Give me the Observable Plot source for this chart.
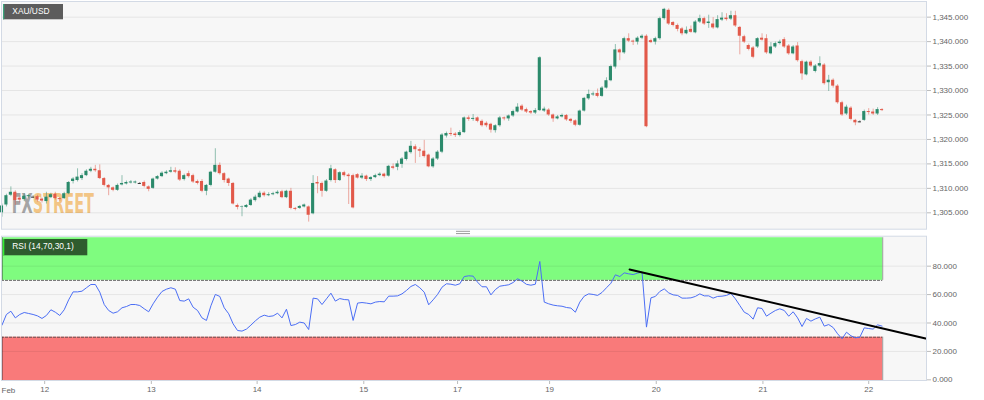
<!DOCTYPE html>
<html><head><meta charset="utf-8">
<script src="https://cdn.jsdelivr.net/npm/d3@7"></script>
<script src="https://cdn.jsdelivr.net/npm/@observablehq/plot@0.6"></script>
<style>
html,body{margin:0;padding:0;background:#fff;}
#chart{position:relative;width:984px;height:400px;overflow:hidden;font-family:"Liberation Sans",Arial,sans-serif;}
#topPanel,#bottomPanel{position:absolute;left:0;}
#topPanel{top:0}
#bottomPanel{top:230px}
svg{display:block}
</style></head><body>
<div id="chart"><div id="topPanel"></div><div id="bottomPanel"></div></div>
<script>
// ---- data (hourly XAU/USD candles) ----
const opens = [1305.0,1306.6,1308.6,1309.2,1308.0,1307.7,1308.3,1308.2,1308.3,1307.8,
1307.3,1308.1,1308.8,1307.9,1307.9,1308.9,1311.4,1311.6,1312.0,1312.6,
1313.5,1313.9,1313.6,1312.0,1310.6,1310.1,1309.6,1310.7,1310.9,1311.1,
1311.1,1311.0,1311.2,1310.3,1310.0,1311.9,1312.4,1313.0,1313.3,1313.6,
1313.5,1311.8,1313.0,1312.6,1311.4,1311.4,1309.4,1310.6,1313.3,1314.7,
1313.0,1311.9,1311.0,1306.5,1306.1,1306.1,1306.5,1307.5,1308.1,1309.0,
1308.5,1308.7,1308.9,1309.3,1308.1,1309.4,1305.9,1305.9,1306.2,1306.2,
1304.8,1311.2,1311.0,1309.4,1311.6,1313.8,1311.6,1313.2,1312.7,1312.6,
1312.8,1312.1,1312.5,1311.8,1312.2,1312.6,1312.9,1312.5,1314.4,1314.3,
1314.9,1315.9,1317.3,1318.5,1317.9,1317.6,1316.8,1314.4,1316.0,1317.4,
1320.7,1321.2,1321.1,1320.8,1321.4,1324.4,1324.1,1324.4,1323.7,1323.3,
1323.1,1321.8,1322.8,1324.4,1324.2,1324.8,1325.6,1326.8,1326.1,1325.7,
1325.4,1325.9,1325.8,1326.0,1325.0,1324.2,1324.6,1324.9,1324.1,1323.8,
1322.9,1325.8,1328.3,1329.1,1329.4,1328.8,1330.5,1332.0,1334.8,1338.3,
1337.7,1340.6,1340.1,1339.9,1340.7,1341.1,1340.2,1339.9,1340.6,1344.7,
1346.4,1343.9,1343.3,1342.6,1341.6,1342.5,1341.8,1344.0,1344.7,1343.7,
1343.6,1342.8,1344.4,1344.8,1344.6,1345.3,1342.9,1341.0,1339.2,1338.7,
1338.9,1340.7,1340.6,1337.5,1338.9,1339.6,1340.4,1339.1,1337.5,1339.1,
1335.9,1333.2,1335.8,1333.9,1335.0,1335.2,1331.6,1332.1,1330.9,1327.5,
1325.2,1326.4,1323.9,1323.6,1323.9,1325.7,1325.6,1325.2,1326.1];
const highs = [1306.8,1308.8,1310.3,1309.5,1308.4,1308.9,1308.8,1308.5,1308.6,1308.0,
1309.2,1309.0,1309.2,1308.1,1309.2,1311.4,1312.2,1314.0,1313.0,1313.8,
1314.3,1314.7,1314.8,1312.2,1310.8,1310.3,1310.9,1312.6,1311.5,1311.6,
1311.5,1311.2,1311.5,1310.5,1312.1,1312.6,1313.4,1313.6,1314.3,1314.2,
1313.8,1312.9,1313.5,1312.9,1311.7,1311.8,1310.8,1313.5,1318.1,1315.2,
1313.2,1312.1,1311.2,1306.8,1306.4,1306.7,1307.9,1308.6,1309.4,1309.3,
1309.1,1309.2,1309.5,1309.6,1309.6,1310.0,1306.1,1306.5,1306.8,1306.4,
1312.6,1312.4,1311.3,1311.8,1314.7,1314.0,1313.4,1313.5,1313.0,1312.9,
1313.0,1313.0,1312.7,1312.4,1312.9,1313.2,1313.1,1314.7,1315.0,1315.6,
1316.3,1317.6,1319.6,1318.9,1318.3,1319.8,1317.0,1316.3,1317.7,1321.2,
1321.5,1322.3,1321.4,1321.8,1324.6,1324.8,1325.1,1324.6,1324.0,1323.6,
1323.3,1323.0,1324.7,1324.6,1325.0,1326.0,1327.3,1327.1,1326.4,1325.9,
1326.3,1336.9,1326.6,1326.3,1325.2,1324.9,1325.2,1325.1,1324.3,1324.0,
1326.0,1328.6,1330.1,1329.7,1330.3,1330.8,1332.6,1335.2,1339.4,1338.5,
1340.9,1341.6,1340.3,1341.0,1341.4,1341.4,1340.5,1340.9,1345.0,1346.8,
1346.7,1344.1,1343.6,1342.9,1343.0,1343.2,1344.3,1345.4,1345.0,1345.4,
1344.9,1345.3,1345.9,1345.7,1346.2,1346.2,1343.1,1341.3,1339.5,1339.0,
1340.8,1341.6,1341.4,1339.8,1339.9,1340.3,1340.8,1339.4,1339.2,1339.8,
1336.2,1336.0,1336.1,1335.3,1336.9,1335.5,1333.1,1332.4,1331.2,1327.8,
1327.0,1326.7,1324.1,1323.8,1326.0,1326.3,1326.2,1326.5,1326.3];
const lows = [1304.1,1306.2,1308.3,1306.5,1307.0,1307.3,1308.0,1308.0,1307.2,1307.0,
1306.8,1307.9,1307.6,1307.3,1307.7,1308.7,1310.9,1311.3,1311.6,1312.4,
1313.2,1313.3,1311.8,1310.3,1308.5,1309.3,1309.4,1310.5,1310.7,1310.9,
1310.9,1310.8,1310.1,1309.3,1309.8,1311.7,1312.2,1312.8,1313.1,1313.0,
1311.4,1311.5,1312.1,1311.0,1310.7,1309.1,1308.5,1310.3,1313.1,1312.7,
1311.1,1310.4,1306.6,1305.6,1304.2,1305.9,1306.3,1307.2,1307.9,1308.2,
1308.3,1308.5,1308.7,1307.9,1307.9,1305.6,1305.4,1305.7,1306.0,1303.1,
1304.6,1308.9,1308.2,1309.2,1311.3,1311.0,1311.4,1312.3,1306.7,1305.8,
1311.9,1311.8,1311.4,1311.4,1312.0,1312.4,1312.1,1312.3,1313.8,1313.6,
1314.1,1315.6,1317.0,1315.1,1316.3,1316.2,1314.2,1314.1,1315.7,1317.1,
1320.3,1320.6,1320.4,1320.5,1321.2,1323.7,1323.7,1323.4,1322.5,1322.4,
1321.3,1321.3,1322.5,1323.8,1323.7,1324.5,1325.4,1325.7,1325.3,1325.1,
1325.1,1325.7,1325.5,1324.7,1323.5,1324.0,1324.4,1323.7,1323.3,1322.6,
1322.7,1325.6,1328.0,1328.8,1328.5,1328.6,1330.3,1331.8,1334.4,1336.1,
1337.4,1339.8,1339.2,1339.3,1340.4,1322.4,1339.6,1339.3,1340.3,1344.4,
1343.3,1343.0,1342.0,1341.2,1341.4,1341.7,1341.6,1343.7,1343.3,1342.7,
1342.5,1342.6,1344.1,1344.2,1344.3,1342.9,1337.3,1339.6,1338.1,1336.5,
1338.6,1340.1,1337.4,1337.3,1338.6,1339.3,1338.6,1337.2,1337.3,1335.8,
1332.1,1333.0,1334.7,1333.6,1334.7,1331.1,1329.8,1330.5,1327.2,1324.7,
1324.9,1323.8,1322.8,1323.4,1323.7,1325.0,1324.9,1324.9,1325.7];
const closes = [1306.4,1308.5,1309.2,1307.5,1307.6,1308.4,1308.5,1308.2,1307.6,1307.4,
1308.2,1308.7,1307.9,1307.7,1308.9,1311.2,1311.9,1312.3,1312.6,1313.5,
1313.9,1313.6,1312.0,1310.6,1310.1,1309.6,1310.6,1311.0,1311.2,1311.3,
1311.3,1311.0,1310.4,1309.8,1311.9,1312.4,1313.1,1313.3,1313.6,1313.3,
1311.7,1312.6,1312.4,1311.3,1311.0,1309.4,1310.6,1313.3,1314.7,1313.0,
1311.6,1311.0,1306.8,1306.1,1306.2,1306.5,1307.6,1308.2,1309.0,1308.5,
1308.7,1308.9,1309.2,1308.1,1309.4,1305.9,1305.7,1306.3,1306.6,1304.5,
1311.0,1310.9,1309.4,1311.5,1314.0,1311.6,1313.2,1312.6,1312.4,1306.0,
1312.1,1312.5,1311.8,1312.2,1312.6,1312.9,1312.4,1314.5,1314.1,1315.0,
1316.0,1317.4,1318.6,1317.9,1317.6,1316.5,1314.4,1316.0,1317.4,1320.9,
1321.2,1321.0,1320.8,1321.4,1324.4,1324.1,1324.3,1323.7,1322.8,1322.8,
1321.9,1322.8,1324.4,1324.2,1324.8,1325.7,1326.6,1326.0,1325.6,1325.4,
1325.9,1336.7,1326.2,1325.0,1324.2,1324.6,1324.9,1324.0,1323.7,1322.9,
1325.8,1328.4,1329.2,1329.3,1328.8,1330.5,1332.0,1334.9,1338.3,1337.7,
1340.6,1340.1,1339.9,1340.7,1341.1,1322.6,1339.8,1340.6,1344.7,1346.6,
1343.6,1343.3,1342.5,1341.6,1342.3,1341.9,1344.0,1344.7,1343.6,1344.0,
1342.8,1344.5,1344.8,1344.5,1345.3,1343.2,1341.1,1339.9,1338.4,1336.8,
1340.6,1340.3,1337.7,1338.9,1339.6,1339.9,1338.9,1337.5,1338.9,1336.1,
1333.4,1335.8,1335.0,1335.0,1335.5,1331.4,1332.1,1330.9,1327.5,1325.0,
1326.6,1324.1,1323.4,1323.6,1325.7,1325.5,1325.2,1326.1,1325.9];
const rsi = [38.5,46.0,48.3,43.6,46.0,47.4,46.7,46.0,45.0,43.2,
45.3,49.3,47.6,45.3,49.3,56.3,61.9,61.9,62.4,64.8,
67.1,67.1,61.7,53.0,48.8,46.9,47.9,50.7,51.6,53.0,
53.0,52.3,50.0,47.9,53.5,58.2,62.2,63.8,64.8,63.8,
55.8,55.4,57.0,51.1,48.8,43.6,41.8,52.1,60.1,58.7,
50.7,46.5,39.4,34.7,34.3,35.7,38.5,41.5,44.1,45.5,
44.6,45.0,46.9,43.6,49.7,38.2,38.9,40.6,40.0,35.4,
57.5,57.0,53.0,57.0,61.0,55.4,57.2,56.5,56.3,41.8,
54.0,54.4,54.0,53.5,54.7,55.1,54.9,58.9,58.9,59.1,
60.5,62.9,65.7,67.1,64.8,61.7,52.8,56.3,60.1,65.2,
67.6,67.3,66.6,67.6,72.7,73.2,73.0,68.7,65.5,65.5,
59.8,63.5,65.9,66.4,66.9,68.5,71.1,69.5,67.2,66.6,
67.3,83.3,54.7,53.5,52.6,52.1,51.8,50.9,50.5,47.6,
54.7,58.9,60.5,60.1,59.4,61.5,64.8,68.0,73.9,72.7,
75.3,74.6,74.1,75.1,75.8,37.1,57.7,58.7,62.2,64.0,
61.2,59.8,59.4,57.5,57.5,57.7,58.7,60.5,59.1,59.1,
57.5,58.7,58.9,59.4,60.8,57.0,52.3,47.6,46.0,42.7,
50.7,50.2,44.8,46.9,48.8,50.0,48.8,44.8,47.9,43.6,
37.5,43.2,41.3,42.9,44.1,37.8,38.9,36.8,32.4,28.9,
33.5,31.0,29.6,30.0,36.6,36.1,35.7,38.7,37.8];
const priceTicks = [1305,1310,1315,1320,1325,1330,1335,1340,1345];
const rsiTicks = [0,20,40,60,80];
const dayTickIdx = [9.6,33.6,57.4,81.4,102.5,123.2,147.2,171.2,195.0];
const dayTickLabels = ["12","13","14","15","17","19","20","21","22"];
const monthLabel = "Feb";
const trendIdx = [141.2, 207.8];
const trendVal = [77.7, 29.1];
const overbought = 70, oversold = 30, rsiMax = 100;
const symbolTitle = "XAU/USD";
const rsiTitle = "RSI (14,70,30,1)";
const brandA = "FX", brandB = "STREET";

// ---- build ----
const GREEN = "#2b8a6b", RED = "#e2594a", DOJI = "#333";
const xDomain = [-0.11, 208.0];
const candles = opens.map((o, i) => ({i, o, h: highs[i], l: lows[i], c: closes[i]}));
const col = d => d.c > d.o ? GREEN : d.c < d.o ? RED : DOJI;
const doji = candles.filter(d => d.c === d.o);
const half = 0.35;
const fmt = d3.format(",.3f");
const plotStyle = {fontFamily: "'Liberation Sans', Arial, sans-serif", fontSize: "8px", color: "#666", background: "transparent", overflow: "visible"};
const svgns = "http://www.w3.org/2000/svg";
function el(tag, attrs, text) {
  const e = document.createElementNS(svgns, tag);
  for (const k in attrs) e.setAttribute(k, attrs[k]);
  if (text != null) e.textContent = text;
  if (tag === "text") e.setAttribute("text-anchor", "start");
  return e;
}

const topChart = Plot.plot({
  width: 984, height: 230,
  marginLeft: 1, marginRight: 58, marginTop: 1, marginBottom: 1.3,
  x: {domain: xDomain, axis: null},
  y: {domain: [1301.65, 1348.2], axis: null},
  style: plotStyle,
  marks: [
    Plot.frame({fill: "#f7f7f7"}),
    Plot.gridY(priceTicks, {stroke: "#000", strokeOpacity: 0.075}),
    Plot.ruleX(candles, {x: "i", y1: "l", y2: "h", stroke: col, strokeOpacity: 0.5, strokeWidth: 1}),
    Plot.rect(candles, {x1: d => d.i - half, x2: d => d.i + half, y1: "o", y2: "c", fill: col}),
    Plot.ruleY(doji, {x1: d => d.i - half, x2: d => d.i + half, y: "c", stroke: DOJI}),
    Plot.axisY(priceTicks, {anchor: "right", tickFormat: fmt, tickSize: 4, tickPadding: 2, stroke: "#bbb"}),
    Plot.frame({stroke: "#d3dae5"})
  ]
});
document.getElementById("topPanel").appendChild(topChart);

// watermark (one text, two coloured parts) under the candles
{
  const t = el("text", {x: 11.7, y: 213, textLength: 82.3, lengthAdjust: "spacingAndGlyphs",
    "font-family": "'DejaVu Sans Condensed','Liberation Sans Narrow',sans-serif", "font-weight": "bold", "font-size": "27", "fill-opacity": 0.8});
  t.appendChild(el("tspan", {fill: "#8f8f8f"}, brandA));
  t.appendChild(el("tspan", {fill: "#f1b866"}, brandB));
  const fr = topChart.querySelector('[aria-label="frame"]');
  if (fr) fr.after(t); else topChart.appendChild(t);
  // symbol badge
  topChart.appendChild(el("rect", {x: 3, y: 4, width: 60, height: 15.3, fill: "#5c5c5c"}));
  topChart.appendChild(el("rect", {x: 3, y: 4, width: 1.3, height: 15.3, fill: "#3aa37c"}));
  topChart.appendChild(el("text", {x: 12.3, y: 11.8, fill: "#fff", "font-size": "8.4", "dominant-baseline": "middle", "font-family": "'Liberation Sans', Arial, sans-serif"}, symbolTitle));
}

const bandX2 = candles.length - 1 + 0.15;
const yMinR = -0.47;
const bottomChart = Plot.plot({
  width: 984, height: 170,
  marginLeft: 1, marginRight: 58, marginTop: 5.7, marginBottom: 20,
  x: {domain: xDomain, axis: null},
  y: {domain: [yMinR, 101.09], axis: null},
  style: plotStyle,
  marks: [
    Plot.frame({fill: "#f7f7f7"}),
    Plot.rect([{lo: overbought, hi: rsiMax}], {x1: xDomain[0], x2: bandX2, y1: "lo", y2: "hi", fill: "#7ffc7f"}),
    Plot.rect([{lo: yMinR, hi: oversold}], {x1: xDomain[0], x2: bandX2, y1: "lo", y2: "hi", fill: "#f97a7a"}),
    Plot.gridY(rsiTicks.slice(1), {stroke: "#000", strokeOpacity: 0.07}),
    Plot.ruleY([overbought, oversold], {x1: xDomain[0], x2: bandX2, stroke: "#444", strokeOpacity: 0.8, strokeDasharray: "3,1"}),
    Plot.ruleX([{lo: overbought, hi: rsiMax}, {lo: yMinR, hi: oversold}], {x: xDomain[0] + 0.12, y1: "lo", y2: "hi", stroke: "#333", strokeOpacity: 0.8}),
    Plot.ruleX([{lo: overbought, hi: rsiMax}, {lo: yMinR, hi: oversold}], {x: bandX2, y1: "lo", y2: "hi", stroke: "#777", strokeOpacity: 0.7}),
    Plot.line(rsi, {x: (d, i) => i, y: d => d, stroke: "#4b6ef5", strokeWidth: 1}),
    Plot.line(trendIdx, {x: d => d, y: (d, i) => trendVal[i], stroke: "#000", strokeWidth: 2}),
    Plot.axisY(rsiTicks, {anchor: "right", tickFormat: fmt, tickSize: 4, tickPadding: 2, stroke: "#bbb"}),
    Plot.axisX(dayTickIdx, {anchor: "bottom", tickFormat: d => dayTickLabels[dayTickIdx.indexOf(d)], tickSize: 4, tickPadding: 2, stroke: "#bbb"}),
    Plot.text([monthLabel], {frameAnchor: "bottom-left", dy: 10, dx: 0, textAnchor: "start", lineAnchor: "middle", fill: "#666"}),
    Plot.frame({stroke: "#d3dae5"})
  ]
});
document.getElementById("bottomPanel").appendChild(bottomChart);
{
  bottomChart.appendChild(el("line", {x1: 456, x2: 470, y1: 1.3, y2: 1.3, stroke: "#999"}));
  bottomChart.appendChild(el("line", {x1: 456, x2: 470, y1: 3.6, y2: 3.6, stroke: "#999"}));
  bottomChart.appendChild(el("rect", {x: 3, y: 9, width: 84.3, height: 16.3, fill: "#2e5c2e"}));
  bottomChart.appendChild(el("rect", {x: 3, y: 9, width: 1.3, height: 16.3, fill: "#33ee33"}));
  bottomChart.appendChild(el("text", {x: 12.3, y: 17.2, fill: "#fff", "font-size": "8.4", "dominant-baseline": "middle", "font-family": "'Liberation Sans', Arial, sans-serif"}, rsiTitle));
}
</script>
</body></html>
